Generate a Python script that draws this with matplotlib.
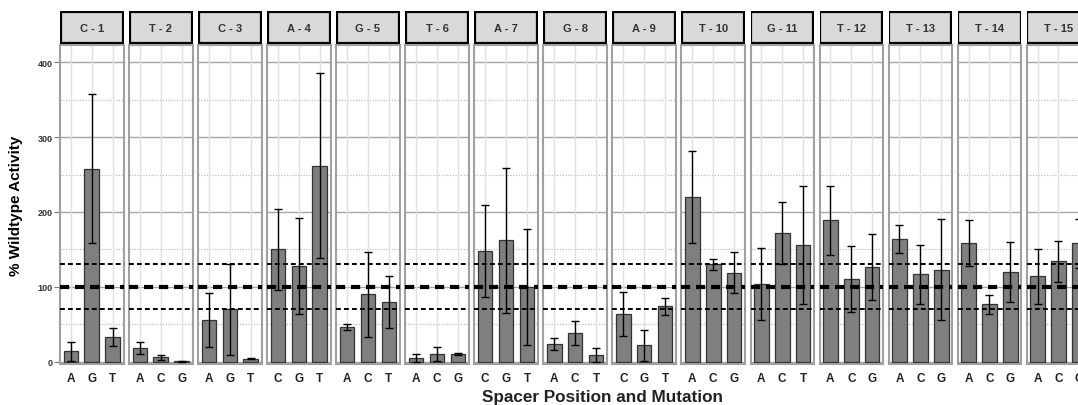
import matplotlib.pyplot as plt
import matplotlib.patches as mpatches

plt.rcParams["font.family"] = ["Liberation Sans", "DejaVu Sans"]
plt.rcParams["font.weight"] = "bold"

# Data
panel_labels = ["C - 1", "T - 2", "C - 3", "A - 4", "G - 5", "T - 6", "A - 7", "G - 8",
                "A - 9", "T - 10", "G - 11", "T - 12", "T - 13", "T - 14", "T - 15"]
mut_labels = [["A", "G", "T"], ["A", "C", "G"], ["A", "G", "T"], ["C", "G", "T"],
              ["A", "C", "T"], ["A", "C", "G"], ["C", "G", "T"], ["A", "C", "T"],
              ["C", "G", "T"], ["A", "C", "G"], ["A", "C", "T"], ["A", "C", "G"],
              ["A", "C", "G"], ["A", "C", "G"], ["A", "C", "G"]]
activity = [[14, 258, 33], [19, 6, 1], [56, 70, 4.5], [150, 128, 262],
            [47, 90, 80], [5, 11, 10.5], [148, 162, 100], [24, 38, 9.5],
            [64, 22, 74], [220, 130, 119], [104, 172, 156], [189, 110, 126],
            [164, 117, 123], [159, 77, 120], [114, 134, 158]]
activity_err = [[13, 100, 12], [8, 3, 0.5], [36, 61, 1], [54, 64, 124],
                [4, 57, 35], [5, 9.5, 1], [62, 97, 77], [8, 16, 9.5],
                [29.5, 21, 11], [62, 7.5, 27], [48, 41, 79], [46, 44, 44],
                [19, 39.5, 67], [30.5, 12.5, 40.5], [37, 27, 33]]
wt_level = 100
band = [70, 130]

W, H = 1078, 406
fig = plt.figure(figsize=(W / 100, H / 100), dpi=100)

left0, step, pw = 60, 69.05, 63.5
top, bottom = 46, 365
strip_top, strip_bot = 12, 45

for i, name in enumerate(panel_labels):
    x0 = left0 + i * step
    ax = fig.add_axes([x0 / W, 1 - bottom / H, pw / W, (bottom - top) / H])
    xs = range(len(mut_labels[i]))

    # grid
    for v in [0, 100, 200, 300, 400]:
        ax.axhline(v, color="#a6a6a6", lw=1.0, zorder=0)
    for v in [50, 150, 250, 350]:
        ax.axhline(v, color="#b5b5b5", lw=0.8, ls=(0, (1, 1.5)), zorder=0)
    for x in xs:
        ax.axvline(x, color="#e0e0e0", lw=1.0, zorder=0)

    ax.bar(xs, activity[i], width=0.7, color="#7f7f7f", edgecolor="#333333",
           linewidth=0.9, zorder=2)
    ax.errorbar(xs, activity[i], yerr=activity_err[i], fmt="none", ecolor="black",
                elinewidth=1.0, capsize=3, capthick=1.0, zorder=4)

    ax.axhline(wt_level, color="black", lw=3.0, ls=(0, (2.2, 1.4)), zorder=3)
    for b in band:
        ax.axhline(b, color="black", lw=1.4, ls=(0, (2.5, 1.6)), zorder=3)

    ax.set_xlim(-0.52, 2.52)
    ax.set_ylim(-2.7, 422.7)
    ax.set_xticks(list(xs))
    ax.set_xticklabels(mut_labels[i], fontsize=8.5, fontweight="bold", color="#222222")
    ax.tick_params(axis="x", length=0, pad=6)
    if i == 0:
        ax.set_yticks([0, 100, 200, 300, 400])
        ax.tick_params(axis="y", length=4, width=0.8, color="#777777",
                       labelsize=6.5, labelcolor="#333333", pad=1.5)
        ax.set_ylabel("% Wildtype Activity", fontsize=11, fontweight="bold", labelpad=10)
    else:
        ax.set_yticks([])
    for s in ax.spines.values():
        s.set_color("#a0a0a0")
        s.set_linewidth(1.5)

    # strip header
    sax = fig.add_axes([x0 / W, 1 - strip_bot / H, pw / W, (strip_bot - strip_top) / H])
    sax.set_axis_off()
    sax.add_patch(mpatches.Rectangle((0.01, 0.02), 0.98, 0.96, transform=sax.transAxes,
                                     facecolor="#d9d9d9", edgecolor="black", lw=1.6))
    sax.text(0.5, 0.5, name, ha="center", va="center", fontsize=8,
             fontweight="bold", color="#333333", transform=sax.transAxes)

fig.text(603 / W, 1 - 398 / H, "Spacer Position and Mutation", ha="center",
         va="center", fontsize=12.3, fontweight="bold", color="#222222")

fig.savefig("out.png", dpi=100)
